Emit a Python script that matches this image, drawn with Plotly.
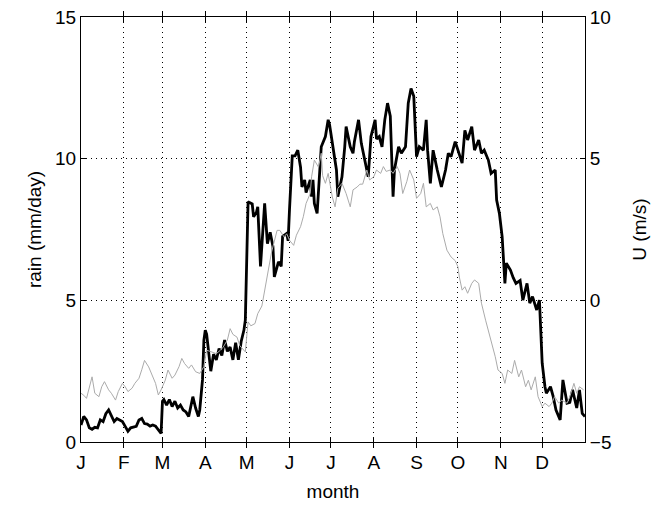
import plotly.graph_objects as go

# Day of year (0 = Jan 1) and daily rain (mm/day)
rain_day = [0, 2, 4, 6, 8, 10, 12, 14, 16, 18, 20, 22, 24, 26, 28, 30, 32, 34, 36, 38, 40, 42, 44, 46, 48,
            50, 52, 54, 56, 58, 59, 60, 62, 64, 66, 68, 70, 72, 74, 76, 78, 80, 81, 83, 85, 86, 88, 89, 90,
            91, 93, 94, 96, 98, 100, 102, 104, 106, 108, 110, 112, 114, 116, 118, 119, 121, 122, 124, 125,
            127, 128, 130, 133, 135, 137, 139, 140, 143, 145, 146, 149, 150, 151, 153, 155, 157, 159, 160,
            162, 163, 166, 167, 168, 169, 171, 172, 174, 177, 179, 180, 183, 185, 186, 189, 191, 192, 195,
            197, 198, 201, 203, 206, 208, 210, 213, 214, 216, 218, 220, 222, 224, 225, 226, 227, 230, 232,
            235, 237, 239, 241, 242, 243, 245, 248, 250, 251, 253, 255, 258, 261, 264, 266, 268, 271, 273,
            276, 278, 280, 283, 285, 288, 290, 292, 295, 297, 300, 301, 303, 305, 306, 307, 308, 311, 313,
            315, 318, 320, 323, 325, 327, 330, 332, 333, 334, 336, 337, 340, 342, 344, 347, 349, 352, 354,
            356, 359, 361, 363, 365]
rain_val = [0.6, 0.9, 0.78, 0.5, 0.45, 0.52, 0.5, 0.78, 0.72, 1.0, 1.13, 0.9, 0.72, 0.83, 0.78, 0.72, 0.55,
            0.38, 0.5, 0.52, 0.55, 0.78, 0.83, 0.65, 0.63, 0.56, 0.6, 0.56, 0.42, 0.3, 1.44, 1.5, 1.3, 1.5,
            1.25, 1.44, 1.2, 1.3, 1.13, 1.06, 0.9, 1.3, 1.6, 1.2, 0.9, 1.13, 2.2, 3.6, 3.95, 3.8, 3.05, 2.5,
            3.1, 2.9, 3.3, 3.05, 3.6, 3.2, 3.35, 2.9, 3.5, 2.9, 3.55, 3.95, 4.3, 8.48, 8.45, 8.4, 7.95, 8.1,
            8.3, 6.2, 8.42, 7.0, 7.4, 6.9, 5.83, 6.36, 6.2, 7.25, 7.36, 7.1, 8.2, 10.1, 10.1, 10.3, 9.7, 9.0,
            9.25, 8.8, 9.25, 8.66, 9.25, 8.42, 8.07, 9.0, 10.42, 10.78, 11.37, 11.2, 10.3, 9.6, 8.66, 9.36,
            10.42, 11.13, 10.42, 10.19, 10.6, 11.37, 10.54, 9.84, 9.36, 10.78, 11.37, 10.7, 10.78, 10.42,
            11.37, 11.96, 11.5, 10.07, 8.66, 9.6, 10.42, 10.19, 10.42, 11.96, 12.48, 12.2, 11.0, 10.07,
            10.42, 10.3, 11.37, 10.3, 9.13, 10.3, 9.6, 9.0, 9.6, 10.19, 10.07, 10.6, 10.3, 9.84, 11.0, 10.66,
            11.13, 10.3, 10.66, 10.19, 10.3, 9.95, 9.48, 9.6, 8.54, 8.07, 7.25, 6.31, 5.6, 6.31, 6.07, 5.8,
            5.6, 5.7, 5.01, 5.6, 4.9, 5.13, 4.66, 5.01, 3.95, 2.78, 1.95, 1.72, 1.95, 1.6, 1.13, 0.78, 2.19,
            1.37, 1.4, 1.84, 1.2, 1.84, 1.01, 0.9]

# Day of year and zonal wind U (m/s)
u_day = [0, 2, 4, 8, 10, 13, 15, 17, 20, 22, 25, 27, 30, 32, 34, 37, 39, 42, 44, 46, 49, 51, 54, 56, 58,
         61, 63, 66, 68, 71, 73, 75, 78, 80, 83, 86, 89, 91, 95, 98, 101, 103, 106, 108, 110, 113, 115, 118,
         119, 121, 123, 126, 128, 131, 134, 138, 142, 144, 147, 149, 151, 154, 156, 159, 161, 163, 166,
         167, 169, 172, 174, 175, 177, 179, 182, 184, 186, 189, 192, 195, 197, 200, 202, 204, 207, 209,
         212, 214, 217, 219, 221, 224, 226, 229, 231, 233, 236, 238, 241, 243, 246, 248, 250, 253, 255,
         258, 260, 262, 265, 268, 271, 273, 274, 276, 278, 280, 283, 285, 288, 290, 293, 295, 297, 300,
         302, 305, 307, 309, 312, 314, 317, 319, 322, 324, 326, 329, 331, 334, 336, 339, 341, 343, 346,
         348, 352, 354, 357, 359, 361, 364]
u_val = [-3.28, -3.35, -3.46, -2.7, -3.28, -3.4, -3.05, -2.87, -3.16, -3.28, -3.52, -3.22, -2.93, -3.05,
         -3.22, -3.1, -2.93, -2.75, -2.45, -2.12, -2.35, -2.58, -2.93, -3.34, -3.16, -2.82, -2.46, -2.75,
         -2.64, -2.34, -2.05, -2.23, -2.4, -2.28, -2.52, -2.58, -2.34, -1.76, -1.82, -1.88, -1.76, -1.65,
         -1.4, -1.0, -1.2, -1.3, -1.6, -1.75, -1.82, -0.76, -0.9, -0.82, -0.47, -0.2, 0.59, 1.7, 2.47, 2.47,
         2.24, 2.35, 2.12, 1.94, 2.3, 2.6, 2.95, 3.42, 3.77, 4.36, 4.95, 4.7, 5.19, 4.4, 4.13, 4.48, 3.65,
         3.3, 3.95, 4.13, 3.77, 3.3, 3.9, 4.0, 4.1, 4.1, 4.6, 4.25, 4.36, 4.6, 4.48, 4.72, 4.55, 4.6, 4.48,
         4.72, 4.48, 3.77, 4.2, 4.6, 4.25, 3.6, 3.77, 4.13, 3.3, 3.42, 3.19, 3.3, 2.95, 2.36, 1.77, 1.53,
         1.4, 1.18, 0.82, 0.36, 0.48, 0.25, 0.6, 0.72, 0.6, -0.1, -0.7, -1.05, -1.4, -1.99, -2.46, -2.58,
         -2.93, -2.46, -2.58, -2.12, -2.7, -2.46, -3.05, -2.82, -3.16, -2.7, -3.4, -3.75, -3.63, -3.75,
         -3.63, -3.4, -3.63, -3.52, -3.63, -3.4, -2.93, -3.28, -3.05, -3.16]

month_start = [0, 31, 59, 90, 120, 151, 181, 212, 243, 273, 304, 334]
month_labels = ["J", "F", "M", "A", "M", "J", "J", "A", "S", "O", "N", "D"]
rain_ticks = [0, 5, 10, 15]
u_ticks = [-5, 0, 5, 10]

FONT = "Liberation Sans, Arial, sans-serif"

fig = go.Figure()
fig.add_trace(go.Scatter(x=u_day, y=u_val, yaxis="y2", mode="lines",
                         line=dict(color="#ababab", width=1), showlegend=False))
fig.add_trace(go.Scatter(x=rain_day, y=rain_val, mode="lines",
                         line=dict(color="black", width=2.8), showlegend=False))

dot = "1px,4px"
fig.update_layout(
    width=651, height=510,
    margin=dict(l=81, r=66, t=17, b=68, autoexpand=False),
    plot_bgcolor="white", paper_bgcolor="white",
    font=dict(family=FONT, size=19, color="black"),
    xaxis=dict(range=[0, 365], tickvals=month_start, ticktext=month_labels,
               ticks="inside", ticklen=5, tickcolor="black", mirror="allticks",
               showline=True, linecolor="black", linewidth=1,
               showgrid=True, gridcolor="black", gridwidth=1, griddash=dot,
               zeroline=False, ticklabelstandoff=3,
               title=dict(text="month", font=dict(size=19), standoff=12)),
    yaxis=dict(range=[0, 15], tickvals=rain_ticks,
               ticks="inside", ticklen=5, tickcolor="black",
               showline=True, linecolor="black", linewidth=1,
               showgrid=True, gridcolor="black", gridwidth=1, griddash=dot,
               zeroline=False,
               title=dict(text="rain (mm/day)", font=dict(size=19), standoff=8)),
    yaxis2=dict(range=[-5, 10], tickvals=u_ticks, overlaying="y", side="right",
                ticks="inside", ticklen=5, tickcolor="black",
                showline=True, linecolor="black", linewidth=1,
                showgrid=False, zeroline=False,
                title=dict(text="U (m/s)", font=dict(size=19), standoff=22)),
)

fig.write_html("out.html", config={"displayModeBar": False},
               post_script="document.body.style.margin='0';")
